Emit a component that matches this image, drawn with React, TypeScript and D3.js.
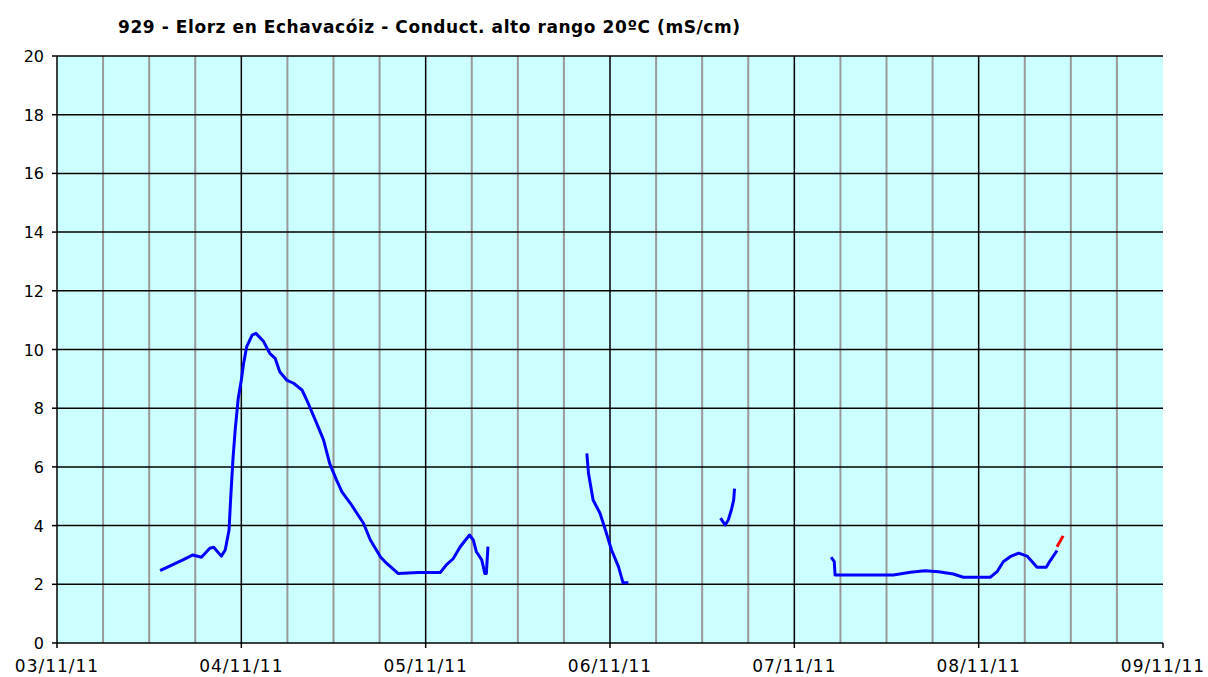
import React from "react";
import * as d3 from "d3";

const title = "929 - Elorz en Echavacóiz - Conduct. alto rango 20ºC (mS/cm)";
const dayLabels = ["03/11/11", "04/11/11", "05/11/11", "06/11/11", "07/11/11", "08/11/11", "09/11/11"];
const yTicks = [0, 2, 4, 6, 8, 10, 12, 14, 16, 18, 20];

// hours since 03/11/11 00:00, conductivity (mS/cm)
const seg1Hours = [13.6, 16.4, 17.7, 18.8, 19.9, 20.4, 21.4, 21.9, 22.4, 22.6, 22.9, 23.2, 23.6, 24.0, 24.3, 24.7, 25.4, 25.9, 26.9, 27.7, 28.4, 29.0, 29.9, 30.8, 31.9, 32.7, 33.8, 34.7, 35.5, 36.4, 37.1, 38.2, 39.9, 40.8, 42.1, 42.9, 44.4, 47.0, 49.9, 50.7, 51.6, 52.5, 53.7, 54.2, 54.6, 55.3, 55.7, 55.9, 56.1];
const seg1Values = [2.49, 2.83, 3.0, 2.92, 3.23, 3.26, 2.96, 3.17, 3.85, 4.87, 6.23, 7.26, 8.34, 8.96, 9.53, 10.1, 10.49, 10.55, 10.27, 9.87, 9.7, 9.24, 8.96, 8.85, 8.62, 8.17, 7.49, 6.92, 6.12, 5.55, 5.15, 4.76, 4.08, 3.51, 2.94, 2.72, 2.37, 2.4, 2.4, 2.66, 2.88, 3.28, 3.68, 3.51, 3.11, 2.83, 2.37, 2.37, 3.23];
const seg2Hours = [69.0, 69.2, 69.8, 70.7, 71.4, 72.2, 73.1, 73.7, 74.2];
const seg2Values = [6.41, 5.78, 4.87, 4.42, 3.85, 3.17, 2.6, 2.05, 2.05];
const seg3Hours = [86.5, 87.0, 87.4, 87.8, 88.1, 88.2];
const seg3Values = [4.21, 4.02, 4.19, 4.53, 4.87, 5.21];
const seg4Hours = [100.9, 101.2, 101.3, 108.9, 111.1, 113.0, 114.8, 116.7, 118.0, 121.5, 122.4, 123.2, 124.1, 125.2, 126.3, 127.6, 128.8, 129.3, 130.1];
const seg4Values = [2.88, 2.77, 2.32, 2.32, 2.41, 2.46, 2.43, 2.35, 2.24, 2.24, 2.43, 2.77, 2.94, 3.06, 2.96, 2.58, 2.58, 2.8, 3.11];
const redHours = [130.2, 131.0];
const redValues = [3.28, 3.65];

const W = 1208, H = 677;
const left = 57, right = 1163, top = 56, bottom = 643;

export default function App() {
  const x = d3.scaleLinear().domain([0, 144]).range([left, right]);
  const y = d3.scaleLinear().domain([0, 20]).range([bottom, top]);
  const line = d3.line<[number, number]>().x(d => x(d[0])).y(d => y(d[1]));
  const zip = (a: number[], b: number[]) => a.map((h, i) => [h, b[i]] as [number, number]);
  const blueSegs = [zip(seg1Hours, seg1Values), zip(seg2Hours, seg2Values), zip(seg3Hours, seg3Values), zip(seg4Hours, seg4Values)];
  const quarter = d3.range(0, 145, 6);
  const font = "'DejaVu Sans', Verdana, sans-serif";
  return (
    <svg width={W} height={H} style={{ position: "absolute", left: 0, top: 0, background: "#fff" }}>
      <rect x={left} y={top} width={right - left} height={bottom - top} fill="#CCFFFF" />
      {quarter.filter(h => h % 24 !== 0).map(h => (
        <line key={"v" + h} x1={x(h)} x2={x(h)} y1={top} y2={bottom} stroke="#999" strokeWidth={2} />
      ))}
      {yTicks.filter(v => v > 0).map(v => (
        <line key={"h" + v} x1={left} x2={right} y1={y(v)} y2={y(v)} stroke="#000" strokeWidth={1.5} />
      ))}
      {dayLabels.map((_, i) => i > 0 && i < dayLabels.length - 1 ? (
        <line key={"d" + i} x1={x(i * 24)} x2={x(i * 24)} y1={top} y2={bottom} stroke="#000" strokeWidth={1.5} />
      ) : null)}
      <line x1={left} x2={left} y1={top} y2={bottom} stroke="#000" strokeWidth={1.5} />
      <line x1={left} x2={right} y1={bottom} y2={bottom} stroke="#000" strokeWidth={1.5} />
      {yTicks.map(v => (
        <g key={"yt" + v}>
          <line x1={left - 5} x2={left} y1={y(v)} y2={y(v)} stroke="#000" strokeWidth={1.5} />
          <text x={left - 13} y={y(v) + 6} textAnchor="end" fontFamily={font} fontSize={16} fill="#000">{v}</text>
        </g>
      ))}
      {dayLabels.map((lab, i) => (
        <g key={"xt" + i}>
          <line x1={x(i * 24)} x2={x(i * 24)} y1={bottom} y2={bottom + 5} stroke="#000" strokeWidth={1.5} />
          <text x={x(i * 24)} y={672} textAnchor="middle" fontFamily={font} fontSize={17} letterSpacing={1} fill="#000">{lab}</text>
        </g>
      ))}
      {blueSegs.map((s, i) => (
        <path key={"s" + i} d={line(s) || ""} fill="none" stroke="#0000FF" strokeWidth={3} strokeLinejoin="round" strokeLinecap="square" />
      ))}
      <path d={line(zip(redHours, redValues)) || ""} fill="none" stroke="#FF0000" strokeWidth={3} />
      <text x={118} y={33} fontFamily={font} fontSize={17} fontWeight="bold" textLength={622} lengthAdjust="spacing" fill="#000">{title}</text>
    </svg>
  );
}
